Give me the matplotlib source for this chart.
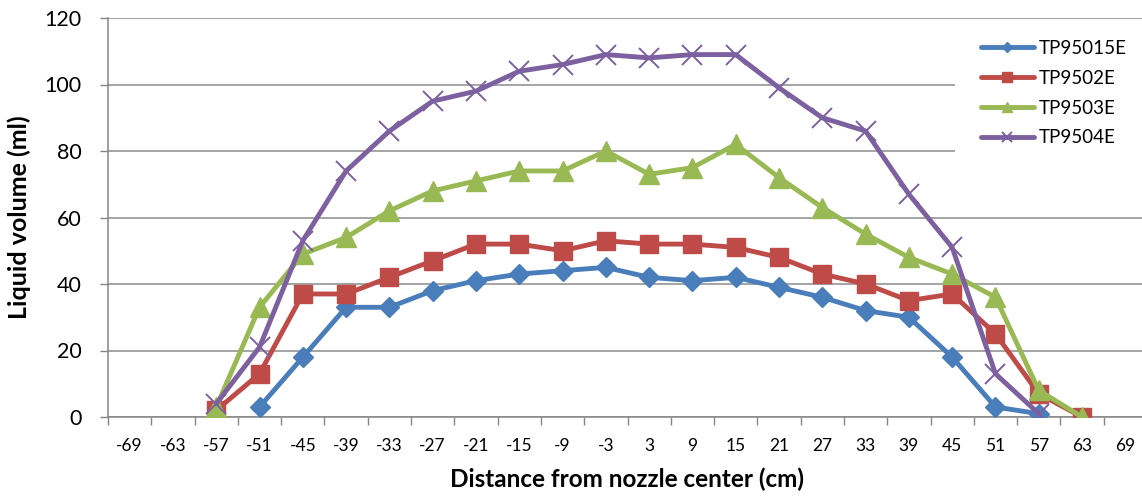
import numpy as np
import matplotlib
matplotlib.use("Agg")
import matplotlib.pyplot as plt
from matplotlib.patches import Rectangle

plt.rcParams['font.family'] = ['Lato', 'DejaVu Sans']

# Category axis: distance from nozzle centre (cm)
distances = [-69, -63, -57, -51, -45, -39, -33, -27, -21, -15, -9, -3,
             3, 9, 15, 21, 27, 33, 39, 45, 51, 57, 63, 69]

# Liquid volume (ml) per nozzle; each series starts at its first distance
tp95015e_start = -51
tp95015e = [3, 18, 33, 33, 38, 41, 43, 44, 45, 42, 41, 42, 39, 36, 32, 30, 18, 3, 1]
tp9502e_start = -57
tp9502e = [2, 13, 37, 37, 42, 47, 52, 52, 50, 53, 52, 52, 51, 48, 43, 40, 35, 37, 25, 7, 0]
tp9503e_start = -57
tp9503e = [3, 33, 49, 54, 62, 68, 71, 74, 74, 80, 73, 75, 82, 72, 63, 55, 48, 43, 36, 8, 0]
tp9504e_start = -57
tp9504e = [4, 21, 53, 74, 86, 95, 98, 104, 106, 109, 108, 109, 109, 99, 90, 86, 67, 51, 13, 1]

series = [
    ("TP95015E", tp95015e_start, tp95015e, "#4A7EBB", "D", 10),
    ("TP9502E", tp9502e_start, tp9502e, "#BE4B48", "s", 12.5),
    ("TP9503E", tp9503e_start, tp9503e, "#98B954", "^", 14),
    ("TP9504E", tp9504e_start, tp9504e, "#7D60A0", "x", 14),
]

fig = plt.figure(figsize=(11.42, 4.97), dpi=100)
ax = fig.add_axes([108 / 1142, 80 / 497, 1039 / 1142, 399 / 497])

for name, start, vals, color, marker, ms in series:
    i0 = distances.index(start)
    xs = np.arange(i0, i0 + len(vals))
    if marker == "x":
        ax.plot(xs, vals, color=color, lw=3.5, marker=marker, ms=ms,
                mew=1.4, label=name, solid_capstyle='round', zorder=3)
    else:
        ax.plot(xs, vals, color=color, lw=3.5, marker=marker, ms=ms,
                mec=color, label=name, solid_capstyle='round', zorder=3)

ax.set_xlim(-0.5, len(distances) - 0.5)
ax.set_ylim(0, 120)
ax.set_yticks(range(0, 121, 20))
ax.set_xticks(np.arange(len(distances)))
ax.set_xticklabels([str(d) for d in distances])
ax.set_xticks(np.arange(len(distances) + 1) - 0.5, minor=True)
ax.tick_params(axis='x', which='major', length=0, labelsize=12.5, pad=15)
ax.tick_params(axis='x', which='minor', length=6, color='#868686', width=1)
ax.tick_params(axis='y', length=6, color='#868686', width=1, labelsize=15.5, pad=13)

ax.grid(axis='y', color='#8c8c8c', lw=1.1)
ax.set_axisbelow(True)
for side in ['top', 'right']:
    ax.spines[side].set_visible(False)
for side in ['left', 'bottom']:
    ax.spines[side].set_color('#868686')
    ax.spines[side].set_linewidth(1.1)

ax.set_xlabel('Distance from nozzle center (cm)', fontsize=17.5, fontweight='bold', labelpad=10)
ax.set_ylabel('Liquid volume (ml)', fontsize=18, fontweight='bold', labelpad=10)

# white box behind the legend hides the gridlines there
ax.add_patch(Rectangle(((955 - 108) / 1039, (417 - 168) / 399), 1, 143 / 399,
                       transform=ax.transAxes, facecolor='white', edgecolor='none',
                       zorder=1.5))
leg = ax.legend(loc='upper left', bbox_to_anchor=((981 - 108) / 1039, (417 - 40) / 399),
                frameon=False, fontsize=13.5, markerscale=0.55, handlelength=2.8,
                labelspacing=0.68, borderpad=0, handletextpad=0.3, borderaxespad=0)

fig.savefig('out.png', dpi=100)
